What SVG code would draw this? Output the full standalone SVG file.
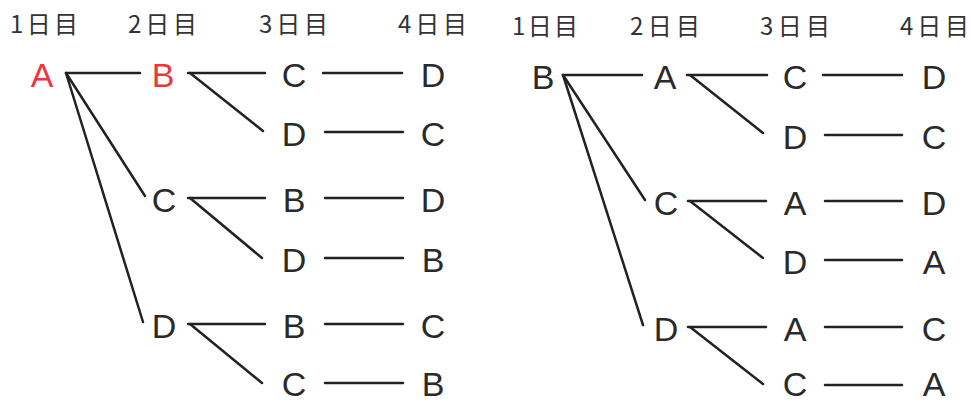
<svg xmlns="http://www.w3.org/2000/svg" width="971" height="403" viewBox="0 0 971 403">
<style>
.h{font-family:"Noto Sans CJK JP","Noto Sans",sans-serif;font-size:24px;fill:#333}
.n{font-family:"Liberation Sans",Arial,sans-serif;font-size:34px;fill:#2a2a2a;text-anchor:middle}
.r{fill:#e8383d}
.c line{stroke:#222;stroke-width:2.5;stroke-linecap:round}
</style>
<rect width="971" height="403" fill="#fff"/>
<g id="headers">
<text class="h" x="10" y="33" textLength="68" lengthAdjust="spacing">1日目</text>
<text class="h" x="128" y="33" textLength="69" lengthAdjust="spacing">2日目</text>
<text class="h" x="259" y="33" textLength="69" lengthAdjust="spacing">3日目</text>
<text class="h" x="398" y="33" textLength="69" lengthAdjust="spacing">4日目</text>
<text class="h" x="512" y="35" textLength="66" lengthAdjust="spacing">1日目</text>
<text class="h" x="630" y="35" textLength="70" lengthAdjust="spacing">2日目</text>
<text class="h" x="760" y="35" textLength="70" lengthAdjust="spacing">3日目</text>
<text class="h" x="900" y="35" textLength="69" lengthAdjust="spacing">4日目</text>
</g>
<g class="c" id="connectors">
<line x1="66" y1="73" x2="140" y2="73"/>
<line x1="66" y1="73" x2="145" y2="196"/>
<line x1="66" y1="73" x2="143" y2="322"/>
<line x1="188" y1="73" x2="265" y2="73"/>
<line x1="190" y1="73" x2="263" y2="131"/>
<line x1="323" y1="73" x2="402" y2="73"/>
<line x1="325" y1="132" x2="403" y2="132"/>
<line x1="188" y1="198" x2="265" y2="198"/>
<line x1="190" y1="198" x2="262" y2="258"/>
<line x1="325" y1="198" x2="403" y2="198"/>
<line x1="325" y1="258" x2="403" y2="258"/>
<line x1="188" y1="324" x2="265" y2="324"/>
<line x1="190" y1="324" x2="262" y2="383"/>
<line x1="325" y1="324" x2="403" y2="324"/>
<line x1="325" y1="383" x2="403" y2="383"/>
<line x1="563" y1="75" x2="642" y2="75"/>
<line x1="563" y1="75" x2="645" y2="200"/>
<line x1="563" y1="75" x2="643" y2="325"/>
<line x1="687" y1="75" x2="767" y2="75"/>
<line x1="690" y1="75" x2="763" y2="133"/>
<line x1="823" y1="75" x2="902" y2="75"/>
<line x1="825" y1="135" x2="902" y2="135"/>
<line x1="688" y1="201" x2="766" y2="201"/>
<line x1="690" y1="201" x2="763" y2="258"/>
<line x1="825" y1="201" x2="902" y2="201"/>
<line x1="825" y1="260" x2="902" y2="260"/>
<line x1="688" y1="327" x2="766" y2="327"/>
<line x1="690" y1="327" x2="763" y2="384"/>
<line x1="825" y1="327" x2="902" y2="327"/>
<line x1="825" y1="385" x2="902" y2="385"/>
</g>
<g id="left-tree">
<g id="L-A"><text class="n r" x="42" y="87">A</text></g>
<g id="L-AB"><text class="n r" x="163" y="87">B</text></g>
<g id="L-ABC"><text class="n" x="294" y="87">C</text></g>
<g id="L-ABCD"><text class="n" x="433" y="87">D</text></g>
<g id="L-ABD"><text class="n" x="294" y="146">D</text></g>
<g id="L-ABDC"><text class="n" x="433" y="146">C</text></g>
<g id="L-AC"><text class="n" x="164" y="212">C</text></g>
<g id="L-ACB"><text class="n" x="294" y="212">B</text></g>
<g id="L-ACBD"><text class="n" x="433" y="212">D</text></g>
<g id="L-ACD"><text class="n" x="294" y="272">D</text></g>
<g id="L-ACDB"><text class="n" x="433" y="272">B</text></g>
<g id="L-AD"><text class="n" x="164" y="338">D</text></g>
<g id="L-ADB"><text class="n" x="294" y="338">B</text></g>
<g id="L-ADBC"><text class="n" x="433" y="338">C</text></g>
<g id="L-ADC"><text class="n" x="294" y="396">C</text></g>
<g id="L-ADCB"><text class="n" x="433" y="396">B</text></g>
</g>
<g id="right-tree">
<g id="R-B"><text class="n" x="543" y="89">B</text></g>
<g id="R-BA"><text class="n" x="665" y="89">A</text></g>
<g id="R-BAC"><text class="n" x="795" y="89">C</text></g>
<g id="R-BACD"><text class="n" x="934" y="89">D</text></g>
<g id="R-BAD"><text class="n" x="795" y="149">D</text></g>
<g id="R-BADC"><text class="n" x="934" y="149">C</text></g>
<g id="R-BC"><text class="n" x="666" y="215">C</text></g>
<g id="R-BCA"><text class="n" x="795" y="215">A</text></g>
<g id="R-BCAD"><text class="n" x="934" y="215">D</text></g>
<g id="R-BCD"><text class="n" x="795" y="274">D</text></g>
<g id="R-BCDA"><text class="n" x="934" y="274">A</text></g>
<g id="R-BD"><text class="n" x="666" y="341">D</text></g>
<g id="R-BDA"><text class="n" x="795" y="341">A</text></g>
<g id="R-BDAC"><text class="n" x="934" y="341">C</text></g>
<g id="R-BDC"><text class="n" x="795" y="396">C</text></g>
<g id="R-BDCA"><text class="n" x="934" y="396">A</text></g>
</g>
</svg>
